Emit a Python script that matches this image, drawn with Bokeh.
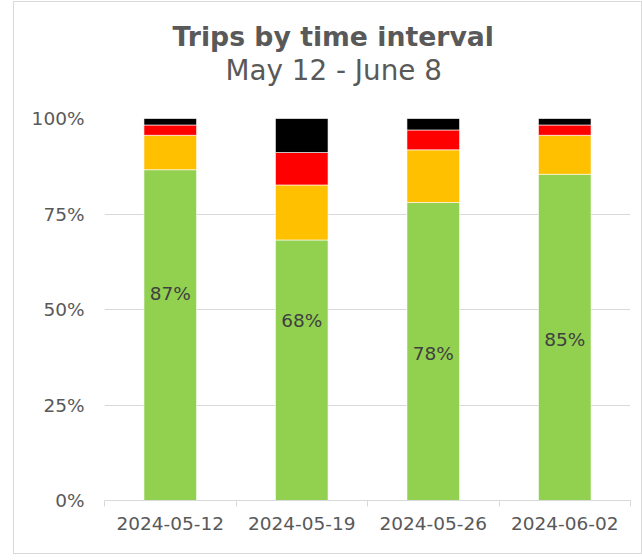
from bokeh.plotting import figure
from bokeh.models import ColumnDataSource, Range1d, FixedTicker, PrintfTickFormatter, Title
from bokeh.core.properties import value
from bokeh.embed import file_html
from bokeh.resources import INLINE
import numpy as np

# ---- data ----
dates = ["2024-05-12", "2024-05-19", "2024-05-26", "2024-06-02"]
on_time = [86.6, 68.2, 78.0, 85.4]      # green
late_1 = [9.0, 14.4, 13.8, 10.2]        # orange
late_2 = [2.7, 8.5, 5.2, 2.7]           # red
late_3 = [1.7, 8.9, 3.0, 1.7]           # black
y_ticks = [0, 25, 50, 75, 100]

# label placement (layout only)
label_pos = [54.1, 47.1, 38.4, 42.1]

FONT = "DejaVu Sans"
GRID = "#d9d9d9"
TXT = "#595959"

xs = list(np.arange(len(dates)) + 0.5)
src = ColumnDataSource(dict(x=xs, g=on_time, o=late_1, r=late_2, b=late_3,
                            ly=label_pos,
                            lab=[f"{round(v)}%" for v in on_time]))

p = figure(width=629, height=553, x_range=Range1d(0, len(dates)), y_range=Range1d(0, 100),
           output_backend="svg", toolbar_location=None, title=None,
           min_border_left=90, min_border_right=13, min_border_top=116, min_border_bottom=55,
           styles={"border": "1px solid #d9d9d9", "margin-left": "13px", "margin-top": "1px"})
p.outline_line_color = None
p.background_fill_color = "white"
p.border_fill_color = "white"

spacer = Title(text=" ", text_font_size="26px", standoff=0)
sub = Title(text="May 12 - June 8", align="left", offset=121, text_font=FONT,
            text_font_size="27.8px", text_font_style="normal", text_color=TXT, standoff=0)
main = Title(text="Trips by time interval", align="left", offset=68, text_font=FONT,
             text_font_size="26.7px", text_font_style="bold", text_color=TXT, standoff=0)
p.add_layout(spacer, "above")
p.add_layout(sub, "above")
p.add_layout(main, "above")

p.vbar_stack(["g", "o", "r", "b"], x="x", width=0.4, source=src,
             color=["#92D050", "#FFC000", "#FF0000", "#000000"],
             line_color="white", line_width=0.6)

p.text(x="x", y="ly", text="lab", source=src, text_align="center", text_baseline="middle",
       text_font=value(FONT), text_font_size="18.5px", text_color="#404040")

# y axis
p.yaxis.ticker = FixedTicker(ticks=y_ticks)
p.yaxis.formatter = PrintfTickFormatter(format="%d%%")
p.yaxis.axis_line_color = None
p.yaxis.major_tick_line_color = None
p.yaxis.minor_tick_line_color = None
p.yaxis.major_label_standoff = 14
p.yaxis.major_label_text_font = FONT
p.yaxis.major_label_text_font_size = "18.5px"
p.yaxis.major_label_text_color = TXT

p.ygrid.ticker = FixedTicker(ticks=y_ticks)
p.ygrid.grid_line_color = GRID
p.xgrid.grid_line_color = None

# x axis
p.xaxis.ticker = FixedTicker(ticks=xs, minor_ticks=list(range(len(dates) + 1)))
p.xaxis.major_label_overrides = {x: d for x, d in zip(xs, dates)}
p.xaxis.axis_line_color = GRID
p.xaxis.major_tick_line_color = None
p.xaxis.minor_tick_line_color = GRID
p.xaxis.minor_tick_in = 0
p.xaxis.minor_tick_out = 6
p.xaxis.major_label_standoff = 10
p.xaxis.major_label_text_font = FONT
p.xaxis.major_label_text_font_size = "18.5px"
p.xaxis.major_label_text_color = TXT

open("out.html", "w").write(file_html(p, INLINE))
